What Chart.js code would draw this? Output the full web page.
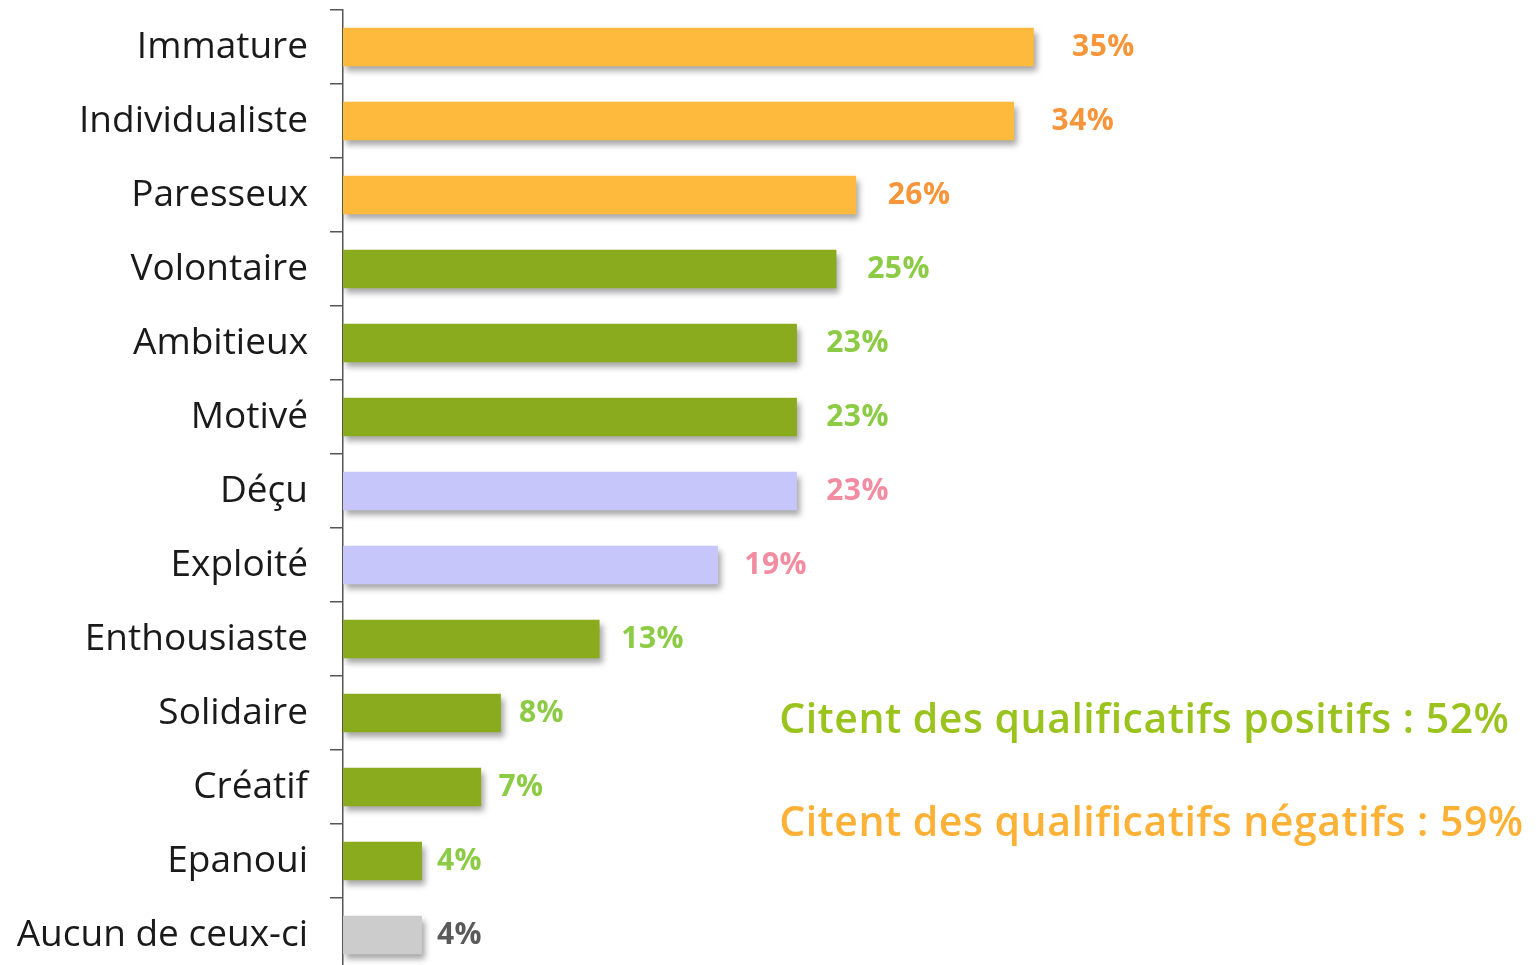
<!DOCTYPE html>
<html>
<head>
<meta charset="utf-8">
<script src="https://cdn.jsdelivr.net/npm/chart.js@4"></script>
<style>
  html, body { margin: 0; padding: 0; background: #fff; overflow: hidden; }
  #wrap { width: 1539px; height: 972px; position: relative; }
</style>
</head>
<body>
<div id="wrap"><canvas id="myChart"></canvas></div>
<script>
// values
const categories = ['Immature', 'Individualiste', 'Paresseux', 'Volontaire', 'Ambitieux', 'Motivé', 'Déçu',
    'Exploité', 'Enthousiaste', 'Solidaire', 'Créatif', 'Epanoui', 'Aucun de ceux-ci'];
const values = [35, 34, 26, 25, 23, 23, 23, 19, 13, 8, 7, 4, 4];
const groups = ['neg', 'neg', 'neg', 'pos', 'pos', 'pos', 'dis', 'dis', 'pos', 'pos', 'pos', 'pos', 'none'];
const summaryTexts = ['Citent des qualificatifs positifs : 52%', 'Citent des qualificatifs négatifs : 59%'];

var barColors = { neg: '#FDBA3C', pos: '#8BAB1F', dis: '#C6C6FA', none: '#CCCCCC' };
var labelColors = { neg: '#F7953A', pos: '#8CCB44', dis: '#F28CA0', none: '#5A5A5A' };
var summaryColors = ['#9BC31E', '#FDB237'];

// drop shadow under the bars
var shadowPlugin = {
    id: 'shadow',
    beforeDatasetsDraw: function (chart) {
        var ctx = chart.ctx;
        ctx.save();
        ctx.shadowColor = 'rgba(0,0,0,0.35)';
        ctx.shadowBlur = 6;
        ctx.shadowOffsetX = 3;
        ctx.shadowOffsetY = 5;
    },
    afterDatasetsDraw: function (chart) {
        chart.ctx.restore();
    }
};

// percent labels + the two summary lines
var labelPlugin = {
    id: 'labels',
    afterDraw: function (chart) {
        var ctx = chart.ctx;
        var meta = chart.getDatasetMeta(0);
        ctx.save();
        ctx.font = 'bold 30px "Open Sans"';
        ctx.letterSpacing = '0.5px';
        ctx.textBaseline = 'middle';
        ctx.textAlign = 'left';
        meta.data.forEach(function (bar, i) {
            var v = values[i];
            ctx.fillStyle = labelColors[groups[i]];
            ctx.fillText(v + '%', bar.x + 12 + v * 0.75, bar.y);
        });

        var xs = chart.scales.x, ys = chart.scales.y;
        ctx.font = '600 41px "Open Sans"';
        ctx.letterSpacing = '0.5px';
        ctx.textBaseline = 'alphabetic';
        ctx.fillStyle = summaryColors[0];
        ctx.fillText(summaryTexts[0], xs.getPixelForValue(22.1), ys.getPixelForValue(9) + 20);
        ctx.fillStyle = summaryColors[1];
        ctx.fillText(summaryTexts[1], xs.getPixelForValue(22.1), ys.getPixelForValue(10) + 49);
        ctx.restore();
    }
};

new Chart('myChart', {
    type: 'bar',
    data: {
        labels: categories,
        datasets: [{
            data: values,
            backgroundColor: groups.map(function (g) { return barColors[g]; }),
            categoryPercentage: 1,
            barPercentage: 0.52
        }]
    },
    options: {
        indexAxis: 'y',
        responsive: true,
        maintainAspectRatio: false,
        animation: false,
        layout: { padding: { top: 10, left: 0, right: 0, bottom: 0 } },
        plugins: { legend: { display: false }, tooltip: { enabled: false } },
        scales: {
            x: { display: false, min: 0, max: 60.6 },
            y: {
                afterFit: function (scale) {
                    scale.width = 343;
                    scale.paddingTop = 0;
                    scale.paddingBottom = 0;
                },
                border: { display: true, color: '#555', width: 1.5 },
                grid: { drawOnChartArea: false, drawTicks: true, tickLength: 13, color: '#555', lineWidth: 1.5 },
                ticks: {
                    color: '#1a1a1a',
                    padding: 22,
                    font: { family: 'Open Sans', size: 37 }
                }
            }
        }
    },
    plugins: [shadowPlugin, labelPlugin]
});
</script>
</body>
</html>
